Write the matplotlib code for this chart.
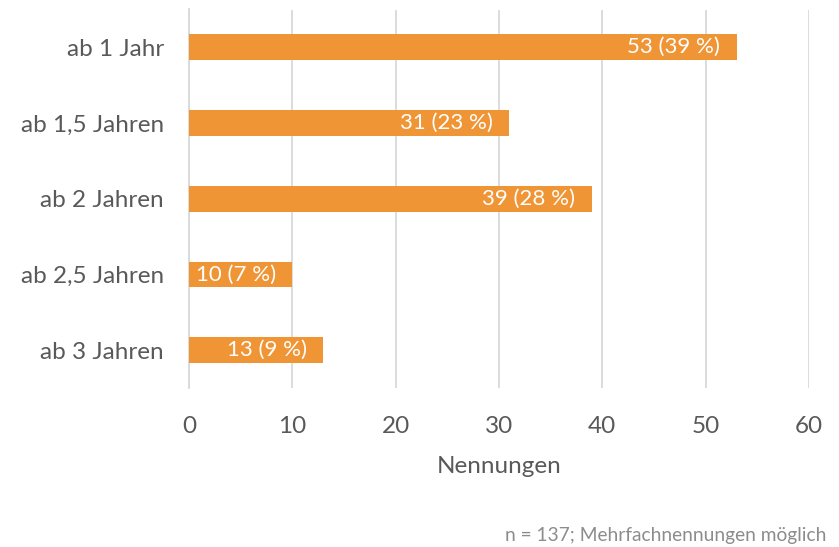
import matplotlib
matplotlib.use("Agg")
import matplotlib.pyplot as plt

categories = ["ab 1 Jahr", "ab 1,5 Jahren", "ab 2 Jahren", "ab 2,5 Jahren", "ab 3 Jahren"]
values = [53, 31, 39, 10, 13]
percents = [39, 23, 28, 7, 9]
xticks = [0, 10, 20, 30, 40, 50, 60]

plt.rcParams['font.family'] = ['Lato', 'DejaVu Sans']
fig = plt.figure(figsize=(8.39, 5.47), dpi=100)
ax = fig.add_axes([189/839, 1-388/547, 620/839, (388-9.5)/547])

ypos = list(range(len(categories)))
ax.barh(ypos, values, height=0.34, color="#F09535", zorder=3)
ax.set_ylim(len(categories)-0.5, -0.5)
ax.set_xlim(0, 60)
ax.set_xticks(xticks)
ax.set_yticks(ypos)
ax.set_yticklabels(categories)
ax.grid(axis='x', color='#D9D9D9', linewidth=1.3, zorder=0)
for s in ['top', 'right', 'bottom']:
    ax.spines[s].set_visible(False)
ax.spines['left'].set_color('#D9D9D9')
ax.spines['left'].set_linewidth(1.3)
ax.tick_params(axis='both', length=0, colors='#595959', labelsize=17.5)
ax.tick_params(axis='y', pad=18)
ax.tick_params(axis='x', pad=20.5)

for y, v, p in zip(ypos, values, percents):
    ax.annotate(f"{v} ({p} %)", xy=(v, y), xytext=(-12, 0), textcoords='offset points',
                ha='right', va='center', color='white', fontsize=16, zorder=4)

ax.set_xlabel("Nennungen", fontsize=17.5, color='#595959', labelpad=13)
fig.text(826/839, 1-535/547, "n = 137; Mehrfachnennungen möglich", ha='right', va='center',
         fontsize=13.8, color='#8C8C8C')

fig.savefig("out.png", dpi=100)
